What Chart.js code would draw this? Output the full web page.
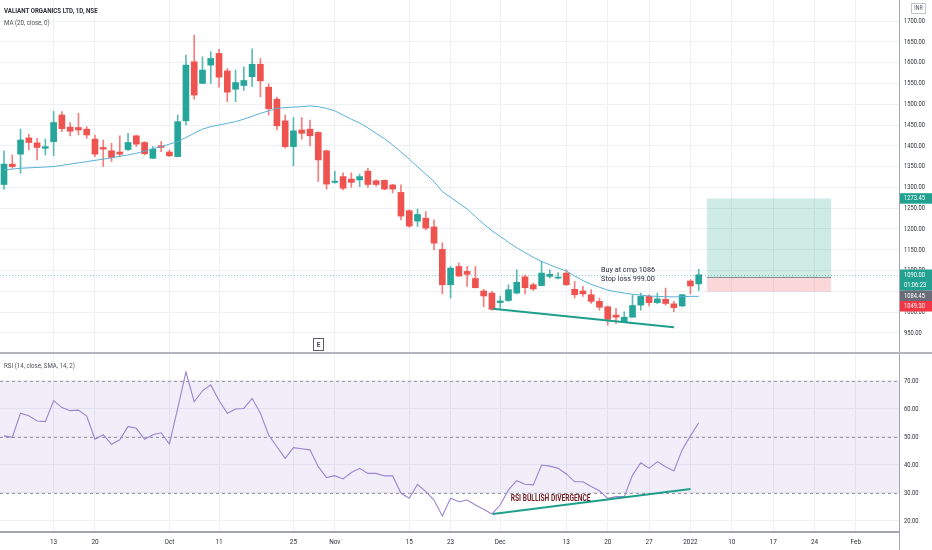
<!doctype html>
<html lang="en">
<head>
<meta charset="UTF-8" />
<title>VALIANT ORGANICS LTD, 1D, NSE</title>
<script src="https://cdn.jsdelivr.net/npm/chart.js"></script>
<style>
  html, body { margin: 0; padding: 0; background: #fff; }
  #wrap {
    position: relative;
    width: 932px;
    height: 550px;
    overflow: hidden;
    font-family: Roboto, "DejaVu Sans", sans-serif;
  }
  canvas { position: absolute; left: 0; }
  #priceChart { top: 0; }
  #rsiChart { top: 354px; }
  .legend {
    position: absolute;
    left: 4px;
    font-size: 7.5px;
    line-height: 9px;
    white-space: nowrap;
    transform: scaleX(0.82);
    transform-origin: left center;
  }
  .title { top: 6px; color: #2a2e39; font-weight: bold; }
  .ma { top: 17.5px; color: #50535e; }
  .rsi { top: 360.5px; color: #50535e; }
</style>
</head>
<body>
<div id="wrap">
  <canvas id="priceChart" width="932" height="354"></canvas>
  <canvas id="rsiChart" width="932" height="196"></canvas>
  <div class="legend title">VALIANT ORGANICS LTD, 1D, NSE</div>
  <div class="legend ma">MA (20, close, 0)</div>
  <div class="legend rsi">RSI (14, close, SMA, 14, 2)</div>
</div>

<script>
// daily candles, index 0 = first visible session (Sep 2021) ... 84 = 4 Jan 2022
const OPEN = [1307, 1356, 1380, 1419, 1407, 1394, 1410, 1474, 1445, 1444,
  1440, 1416, 1396, 1388, 1385, 1391, 1424, 1408, 1370, 1400,
  1385, 1374, 1460, 1602, 1550, 1594, 1622, 1580, 1536, 1545,
  1566, 1596, 1541, 1512, 1460, 1398, 1438, 1440, 1432, 1388,
  1312, 1326, 1320, 1318, 1339, 1316, 1317, 1306, 1288, 1244,
  1219, 1226, 1205, 1151, 1066, 1110, 1098, 1081, 1051, 1046,
  1023, 1028, 1046, 1085, 1066, 1064, 1086, 1082, 1094, 1055,
  1051, 1042, 1026, 1013, 993, 977, 988, 1017, 1038, 1023,
  1031, 1020, 1015, 1075, 1068];
const HIGH = [1388, 1378, 1440, 1428, 1418, 1416, 1483, 1482, 1456, 1478,
  1446, 1426, 1414, 1406, 1424, 1430, 1426, 1410, 1398, 1410,
  1390, 1474, 1618, 1666, 1614, 1626, 1632, 1586, 1582, 1590,
  1633, 1610, 1549, 1517, 1474, 1468, 1468, 1462, 1434, 1390,
  1339, 1335, 1335, 1332, 1346, 1318, 1318, 1307, 1306, 1246,
  1248, 1242, 1222, 1167, 1110, 1118, 1110, 1110, 1055, 1050,
  1039, 1066, 1102, 1090, 1070, 1123, 1102, 1095, 1102, 1074,
  1062, 1054, 1034, 1015, 1009, 1001, 1042, 1046, 1042, 1046,
  1058, 1026, 1043, 1078, 1103];
const LOW = [1295, 1346, 1334, 1390, 1366, 1378, 1376, 1434, 1424, 1426,
  1418, 1374, 1350, 1362, 1374, 1388, 1398, 1378, 1369, 1386,
  1374, 1374, 1450, 1512, 1550, 1550, 1541, 1506, 1506, 1533,
  1542, 1518, 1474, 1438, 1394, 1352, 1416, 1400, 1314, 1296,
  1310, 1294, 1300, 1302, 1300, 1303, 1294, 1287, 1222, 1204,
  1206, 1198, 1150, 1044, 1034, 1086, 1062, 1058, 1013, 1005,
  1009, 1026, 1044, 1044, 1052, 1064, 1082, 1080, 1064, 1034,
  1038, 1021, 1005, 969, 973, 975, 988, 1005, 1015, 1020,
  1017, 1001, 1013, 1044, 1052];
const CLOSE = [1356, 1350, 1414, 1408, 1396, 1398, 1456, 1441, 1435, 1438,
  1426, 1380, 1392, 1372, 1380, 1408, 1404, 1381, 1392, 1396,
  1376, 1458, 1594, 1522, 1582, 1610, 1565, 1529, 1552, 1557,
  1596, 1556, 1489, 1448, 1398, 1436, 1430, 1424, 1366, 1308,
  1315, 1298, 1312, 1326, 1307, 1307, 1296, 1296, 1231, 1207,
  1235, 1202, 1166, 1066, 1106, 1087, 1091, 1059, 1039, 1007,
  1027, 1054, 1072, 1059, 1056, 1094, 1091, 1084, 1066, 1042,
  1044, 1026, 1012, 983, 988, 988, 1016, 1038, 1023, 1032,
  1021, 1011, 1042, 1063, 1090];
const MA20 = [1342, 1344, 1346, 1347, 1348, 1349, 1350, 1353, 1356, 1359,
  1362, 1365, 1368, 1371, 1375, 1378, 1382, 1387, 1393, 1398,
  1404, 1410, 1420, 1430, 1440, 1446, 1450, 1454, 1458, 1464,
  1471, 1478, 1484, 1490, 1492, 1493, 1494, 1496, 1494, 1490,
  1484, 1474, 1464, 1455, 1443, 1430, 1417, 1402, 1385, 1368,
  1350, 1332, 1314, 1290, 1276, 1262, 1248, 1230, 1212, 1196,
  1182, 1168, 1155, 1143, 1132, 1122, 1114, 1106, 1099, 1087,
  1076, 1067, 1060, 1053, 1049, 1046, 1043, 1041, 1039, 1038,
  1037, 1037, 1037, 1038, 1038];
const RSI14 = [50.4, 49.9, 58.5, 57.6, 55.7, 55.5, 63.0, 60.5, 59.4, 59.6,
  57.5, 49.2, 50.8, 47.4, 49.0, 53.8, 53.1, 49.2, 50.8, 51.5,
  47.5, 60.2, 73.2, 62.6, 66.5, 68.6, 63.0, 58.5, 60.0, 60.2,
  63.8, 58.5, 50.7, 46.5, 42.4, 46.2, 45.8, 45.4, 39.4, 35.5,
  36.2, 35.0, 37.3, 38.8, 37.0, 37.0, 36.1, 36.1, 29.9, 28.1,
  33.1, 30.5, 27.5, 21.8, 28.1, 26.9, 27.5, 25.7, 24.2, 22.5,
  25.7, 31.1, 34.4, 33.1, 32.9, 40.0, 39.6, 38.8, 36.8, 34.0,
  34.0, 32.3, 30.8, 28.1, 28.7, 28.7, 36.4, 40.8, 38.8, 41.2,
  39.4, 37.9, 45.4, 50.4, 55.1];

// axes
const TIME_TICK_IDX = [6, 11, 20, 26, 35, 40, 49, 54, 60, 68, 73, 78, 83, 88, 93, 98, 103];
const TIME_TICK_LABELS = ['13', '20', 'Oct', '11', '25', 'Nov', '15', '23', 'Dec', '13', '20', '27', '2022', '10', '17', '24', 'Feb'];
const PRICE_TICKS = [950, 1000, 1050, 1100, 1150, 1200, 1250, 1300, 1350, 1400, 1450, 1500, 1550, 1600, 1650, 1700];
const RSI_TICKS = [20, 30, 40, 50, 60, 70];
const RSI_BANDS = [70, 50, 30];

// drawings
const PRICE_TREND_X = [59.1, 81.0];
const PRICE_TREND_Y = [1008, 964];
const RSI_TREND_X = [59.1, 83.0];
const RSI_TREND_Y = [22.5, 31.4];
const POSITION_IDX = [85, 100];
const POSITION_TARGET = 1273.45;
const POSITION_ENTRY = 1084.45;
const POSITION_STOP = 1049.30;
const NOTE_LINES = ['Buy at cmp 1086', 'Stop loss 999.00'];
const NOTE_IDX = 72.2;
const NOTE_PRICES = [1101.5, 1080];
const DIV_TEXT = 'RSI BULLISH DIVERGENCE';
const DIV_IDX = 66.1;
const DIV_RSI = 27.9;
const EARNINGS_IDX = 38;
const LAST_PRICE = CLOSE[CLOSE.length - 1];
const COUNTDOWN = '01:06:23';
const AXIS_LABEL_VALUES = [POSITION_TARGET, LAST_PRICE, POSITION_ENTRY, POSITION_STOP];

// look
const FONT = 'Roboto, "DejaVu Sans", sans-serif';
const UP = '#26a69a', DOWN = '#ef5350';
const GRID = '#edf0f4';
const AXIS = '#a3a6af';
const TEXT = '#2a2e39';
const TEAL_LINE = '#1f9e8c';
const AXIS_LABEL_COLORS = ['#22a190', '#22a190', '#6a6d78', '#f23645'];
const X_MIN = -0.484, X_MAX = 108.22;
const P_MIN = 899.5, P_MAX = 1750.5;
const R_MIN = 16.07, R_MAX = 79.64;

Chart.defaults.font.family = FONT;

const noPad = (s) => { s.paddingTop = 0; s.paddingBottom = 0; s.paddingLeft = 0; s.paddingRight = 0; };

// text squeezed horizontally like the screenshot
function drawText(ctx, text, x, y, o) {
  ctx.save();
  ctx.translate(x, y);
  ctx.scale(o.sx || 1, 1);
  ctx.font = (o.weight || '') + ' ' + o.size + 'px ' + FONT;
  ctx.fillStyle = o.color || TEXT;
  ctx.textAlign = o.align || 'left';
  ctx.textBaseline = 'middle';
  ctx.fillText(text, 0, 0);
  ctx.restore();
}

function drawYLabels(chart) {
  const { ctx, chartArea: a, scales: { y } } = chart;
  y.ticks.forEach((t) => {
    drawText(ctx, t.value.toFixed(2), a.right + 5, y.getPixelForValue(t.value), { size: 7, sx: 0.82 });
  });
}

const wicks = HIGH.map((h, i) => ({ x: i, y: [LOW[i], h] }));
const bodies = OPEN.map((o, i) => ({ x: i, y: [o, CLOSE[i]] }));
const candleColors = OPEN.map((o, i) => (CLOSE[i] >= o ? UP : DOWN));
const wickColors = OPEN.map((o, i) => (CLOSE[i] >= o ? 'rgba(38,166,154,0.75)' : 'rgba(239,83,80,0.75)'));

function xScaleBase(bottomAxis) {
  return {
    type: 'linear',
    min: X_MIN,
    max: X_MAX,
    offset: false,
    afterBuildTicks: (s) => { s.ticks = TIME_TICK_IDX.map((v) => ({ value: v })); },
    ticks: { display: false },
    grid: { color: GRID, drawTicks: false, offset: false },
    border: { display: bottomAxis, color: AXIS, width: 2 },
    afterFit: (s) => { s.height = bottomAxis ? 18 : 0; noPad(s); },
  };
}

function yScaleBase(min, max, list) {
  return {
    position: 'right',
    min: min,
    max: max,
    afterBuildTicks: (s) => { s.ticks = list.map((v) => ({ value: v })); },
    ticks: { display: false },
    grid: { color: GRID, drawTicks: false },
    border: { color: AXIS, width: 1 },
    afterFit: (s) => { s.width = 33; noPad(s); },
  };
}

// price pane drawings
const pricePlugin = {
  id: 'priceDrawings',
  beforeDatasetsDraw(chart) {
    const { ctx, chartArea: a, scales: { x, y } } = chart;
    const x0 = x.getPixelForValue(POSITION_IDX[0]);
    const x1 = x.getPixelForValue(POSITION_IDX[1]);
    const yT = y.getPixelForValue(POSITION_TARGET);
    const yE = y.getPixelForValue(POSITION_ENTRY);
    const yS = y.getPixelForValue(POSITION_STOP);
    ctx.save();
    ctx.fillStyle = 'rgba(8,153,129,0.2)';
    ctx.fillRect(x0, yT, x1 - x0, yE - yT);
    ctx.fillStyle = 'rgba(242,54,69,0.2)';
    ctx.fillRect(x0, yE, x1 - x0, yS - yE);
    ctx.strokeStyle = '#8a8d96';
    ctx.lineWidth = 1;
    ctx.beginPath();
    ctx.moveTo(x0, Math.round(yE) + 0.5);
    ctx.lineTo(x1, Math.round(yE) + 0.5);
    ctx.stroke();
    // last price line
    const yL = Math.round(y.getPixelForValue(LAST_PRICE)) + 0.5;
    ctx.strokeStyle = 'rgba(38,166,154,0.55)';
    ctx.setLineDash([1, 2]);
    ctx.beginPath();
    ctx.moveTo(a.left, yL);
    ctx.lineTo(a.right, yL);
    ctx.stroke();
    ctx.restore();
  },
  afterDatasetsDraw(chart) {
    const { ctx, chartArea: a, scales: { x, y } } = chart;
    NOTE_LINES.forEach((t, k) => {
      drawText(ctx, t, x.getPixelForValue(NOTE_IDX), y.getPixelForValue(NOTE_PRICES[k]), { size: 7.6, sx: 0.95, color: '#2a2e39' });
    });
    // earnings flag
    ctx.save();
    const ex = Math.round(x.getPixelForValue(EARNINGS_IDX)) + 0.5;
    const ey = a.bottom - 15.5;
    ctx.fillStyle = '#fff';
    ctx.strokeStyle = '#5d606b';
    ctx.fillRect(ex - 5, ey, 10, 12);
    ctx.strokeRect(ex - 5, ey, 10, 12);
    ctx.restore();
    drawText(ctx, 'E', ex, ey + 6.5, { size: 7.5, weight: 'bold', align: 'center', color: '#434651', sx: 0.85 });
  },
  afterDraw(chart) {
    const { ctx, chartArea: a } = chart;
    const y = chart.scales.y;
    drawYLabels(chart);
    let prevBottom = -Infinity;
    AXIS_LABEL_VALUES.forEach((v, k) => {
      const lines = k === 1 ? [v.toFixed(2), COUNTDOWN] : [v.toFixed(2)];
      const h = 10.5 * lines.length;
      const top = Math.max(y.getPixelForValue(v) - 5.25, prevBottom);
      prevBottom = top + h;
      ctx.fillStyle = AXIS_LABEL_COLORS[k];
      ctx.fillRect(a.right + 1, top, chart.width - a.right - 1, h);
      lines.forEach((t, j) => drawText(ctx, t, a.right + 5, top + 5.5 + j * 10.5, { size: 7, sx: 0.82, color: '#fff' }));
    });
    // currency badge
    ctx.save();
    ctx.strokeStyle = '#c3c6ce';
    ctx.fillStyle = '#fff';
    ctx.fillRect(911.5, 3.5, 14, 10);
    ctx.strokeRect(911.5, 3.5, 14, 10);
    ctx.restore();
    drawText(ctx, 'INR', 918.5, 8.8, { size: 6.5, sx: 0.8, align: 'center', color: '#50535e' });
    // pane separator
    ctx.save();
    ctx.fillStyle = '#b2b5be';
    ctx.fillRect(0, chart.height - 2, chart.width, 2);
    ctx.restore();
  },
};

new Chart(document.getElementById('priceChart'), {
  type: 'bar',
  data: {
    datasets: [
      {
        type: 'line',
        label: 'Trend',
        data: PRICE_TREND_X.map((v, k) => ({ x: v, y: PRICE_TREND_Y[k] })),
        borderColor: TEAL_LINE,
        borderWidth: 2,
        pointRadius: 0,
        order: 0,
      },
      {
        type: 'line',
        label: 'MA (20)',
        data: MA20.map((v, i) => ({ x: i, y: v })),
        borderColor: '#5ab0d5',
        borderWidth: 1,
        pointRadius: 0,
        order: 1,
      },
      {
        label: 'Body',
        data: bodies,
        backgroundColor: candleColors,
        barThickness: 6,
        minBarLength: 1,
        grouped: false,
        borderWidth: 0,
        order: 2,
      },
      {
        label: 'Wick',
        data: wicks,
        backgroundColor: wickColors,
        barThickness: 1,
        grouped: false,
        borderWidth: 0,
        order: 3,
      },
    ],
  },
  options: {
    responsive: false,
    animation: false,
    events: [],
    layout: { padding: 0 },
    plugins: { legend: { display: false }, tooltip: { enabled: false } },
    scales: {
      x: xScaleBase(false),
      y: yScaleBase(P_MIN, P_MAX, PRICE_TICKS),
    },
  },
  plugins: [pricePlugin],
});

// RSI pane drawings
const rsiPlugin = {
  id: 'rsiDrawings',
  beforeDatasetsDraw(chart) {
    const { ctx, chartArea: a, scales: { y } } = chart;
    const yU = y.getPixelForValue(RSI_BANDS[0]);
    const yD = y.getPixelForValue(RSI_BANDS[2]);
    ctx.save();
    ctx.fillStyle = 'rgba(126,87,194,0.1)';
    ctx.fillRect(a.left, yU, a.right - a.left, yD - yU);
    ctx.strokeStyle = '#9598a1';
    ctx.lineWidth = 1;
    ctx.setLineDash([3, 3]);
    RSI_BANDS.forEach((v) => {
      const py = Math.round(y.getPixelForValue(v)) + 0.5;
      ctx.beginPath();
      ctx.moveTo(a.left, py);
      ctx.lineTo(a.right, py);
      ctx.stroke();
    });
    ctx.restore();
  },
  afterDatasetsDraw(chart) {
    const { ctx, scales: { x, y } } = chart;
    drawText(ctx, DIV_TEXT, x.getPixelForValue(DIV_IDX), y.getPixelForValue(DIV_RSI),
      { size: 9.5, weight: 'bold', sx: 0.7, align: 'center', color: '#6e1a22' });
  },
  afterDraw(chart) {
    const { ctx, chartArea: a, scales: { x } } = chart;
    drawYLabels(chart);
    TIME_TICK_IDX.forEach((v, k) => {
      drawText(ctx, TIME_TICK_LABELS[k], x.getPixelForValue(v), a.bottom + 9.5, { size: 8, sx: 0.8, align: 'center' });
    });
    ctx.save();
    ctx.fillStyle = AXIS;
    ctx.fillRect(Math.round(a.right), 0, 1, chart.height);
    ctx.restore();
  },
};

new Chart(document.getElementById('rsiChart'), {
  type: 'line',
  data: {
    datasets: [
      {
        label: 'Divergence',
        data: RSI_TREND_X.map((v, k) => ({ x: v, y: RSI_TREND_Y[k] })),
        borderColor: TEAL_LINE,
        borderWidth: 2,
        pointRadius: 0,
        order: 0,
      },
      {
        label: 'RSI',
        data: RSI14.map((v, i) => ({ x: i, y: v })),
        borderColor: '#9b85cf',
        borderWidth: 1.1,
        pointRadius: 0,
        order: 1,
      },
    ],
  },
  options: {
    responsive: false,
    animation: false,
    events: [],
    layout: { padding: 0 },
    plugins: { legend: { display: false }, tooltip: { enabled: false } },
    scales: {
      x: xScaleBase(true),
      y: yScaleBase(R_MIN, R_MAX, RSI_TICKS),
    },
  },
  plugins: [rsiPlugin],
});
</script>
</body>
</html>
